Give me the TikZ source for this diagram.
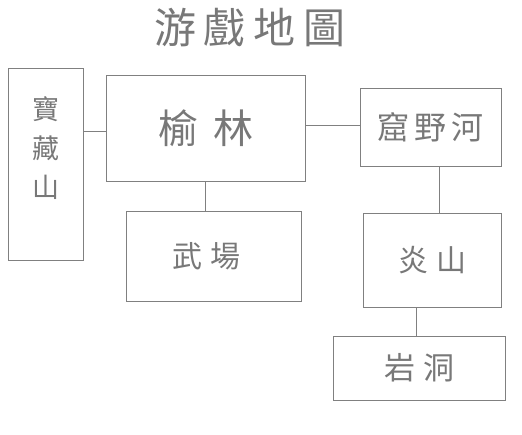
\documentclass[tikz,border=0pt]{standalone}
\usepackage{fontspec}
\newfontfamily\cjk{Noto Sans CJK TC}
\definecolor{linegray}{HTML}{808080}
\definecolor{txtgray}{HTML}{787878}
\begin{document}
\begin{tikzpicture}[x=1pt,y=-1pt,
  box/.style={draw=linegray,line width=1pt,inner sep=0pt,font=\cjk,text=txtgray},
  lbl/.style={inner sep=0pt,font=\cjk,text=txtgray},
  conn/.style={draw=linegray,line width=1pt}]
\useasboundingbox (0,0) rectangle (522,435);
\node[lbl,font=\cjk\fontsize{42}{42}\selectfont] (title) at (250,28) {游\hspace{8pt}戲\hspace{8pt}地\hspace{8pt}圖};
\node[box,minimum width=75pt,minimum height=191.7pt] (bao) at (45.8,164.2) {};
\node[lbl,font=\cjk\fontsize{27}{39}\selectfont,align=center] (baot) at (45.8,148) {寶\\藏\\山};
\node[box,minimum width=199pt,minimum height=106.4pt,font=\cjk\fontsize{40}{40}\selectfont] (yl) at (205.5,128.5) {榆\hspace{15pt}林};
\node[box,minimum width=141.3pt,minimum height=78.4pt,font=\cjk\fontsize{32}{32}\selectfont] (kuy) at (430.7,127.5) {窟\hspace{5pt}野\hspace{5pt}河};
\node[box,minimum width=175.3pt,minimum height=90pt,font=\cjk\fontsize{30}{30}\selectfont] (wc) at (213.7,256.3) {武\hspace{8pt}場\hspace*{14pt}};
\node[box,minimum width=138pt,minimum height=94pt,font=\cjk\fontsize{30}{30}\selectfont] (ys) at (432.3,260.3) {炎\hspace{8pt}山};
\node[box,minimum width=172pt,minimum height=63.7pt,font=\cjk\fontsize{31}{31}\selectfont] (yd) at (419.3,368.2) {岩\hspace{8pt}洞};
\draw[conn] (bao.east |- 0,131.7) -- (yl.west |- 0,131.7);
\draw[conn] (yl.east |- 0,125.3) -- (kuy.west |- 0,125.3);
\draw[conn] (yl.south -| 205.3,0) -- (wc.north -| 205.3,0);
\draw[conn] (kuy.south -| 439.3,0) -- (ys.north -| 439.3,0);
\draw[conn] (ys.south -| 416,0) -- (yd.north -| 416,0);
\end{tikzpicture}
\end{document}
